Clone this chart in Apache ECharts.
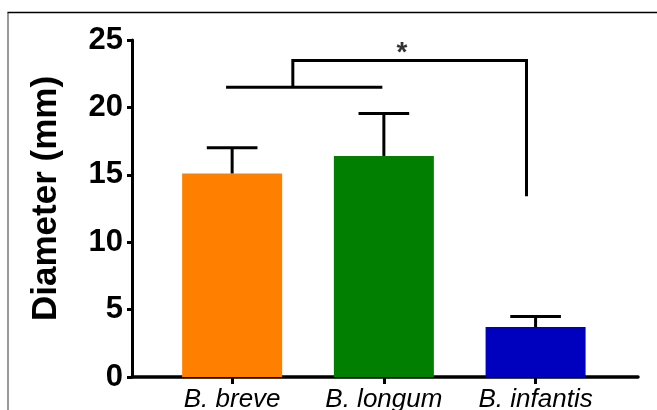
<!DOCTYPE html>
<html>
<head>
<meta charset="utf-8">
<script src="https://cdn.jsdelivr.net/npm/echarts@6/dist/echarts.min.js"></script>
<style>
html,body{margin:0;padding:0;background:#fff;}
#chart{width:657px;height:410px;}
</style>
</head>
<body>
<div id="chart"></div>
<script>
// ---- data ----
var categories = ['B. breve', 'B. longum', 'B. infantis'];
var categoryPositions = [0, 1, 2];
var means = [15.1, 16.4, 3.7];
var upperErrors = [17.0, 19.55, 4.48];
var barColors = ['#FF8000', '#007F00', '#0000BF'];
var yTicks = [0, 5, 10, 15, 20, 25];
// significance bracket (x in category units, y in mm)
var bracketLow = [[-0.04, 21.5], [0.99, 21.5]];
var bracketHigh = [[0.4, 21.5], [0.4, 23.47], [1.94, 23.47], [1.94, 13.4]];
var starMark = [[1.12, 24.45]];
var starText = '*';

var font = '"Liberation Sans", Arial, Helvetica, sans-serif';

var chart = echarts.init(document.getElementById('chart'), null, {renderer: 'canvas'});

var barData = categoryPositions.map(function (x, i) {
  return {value: [x, means[i]], itemStyle: {color: barColors[i]}};
});
var errData = categoryPositions.map(function (x, i) {
  return [x, means[i], upperErrors[i]];
});

var option = {
  animation: false,
  backgroundColor: '#fff',
  grid: {left: 132, right: 19, top: 40, bottom: 33, containLabel: false, outerBoundsMode: 'none'},
  graphic: [
    {type: 'line', shape: {x1: 8, y1: 12.5, x2: 8, y2: 420}, style: {stroke: '#777', lineWidth: 1.5}, silent: true},
    {type: 'line', shape: {x1: 7.5, y1: 12.5, x2: 670, y2: 12.5}, style: {stroke: '#000', lineWidth: 1.5}, silent: true}
  ],
  xAxis: {
    type: 'value',
    min: -0.66,
    max: 2.675,
    splitLine: {show: false},
    axisLine: {show: true, onZero: false, lineStyle: {color: '#000', width: 3.5}},
    axisTick: {show: true, customValues: categoryPositions, length: 7, lineStyle: {color: '#000', width: 3}},
    axisLabel: {
      show: true,
      customValues: categoryPositions,
      formatter: function (v) { return categories[Math.round(v)]; },
      fontFamily: font, fontSize: 26, fontStyle: 'italic', color: '#000', margin: 10
    }
  },
  yAxis: {
    type: 'value',
    min: 0,
    max: 25,
    interval: 5,
    name: 'Diameter (mm)',
    nameLocation: 'middle',
    nameGap: 68,
    nameTextStyle: {fontFamily: font, fontSize: 35, fontWeight: 'bold', color: '#000', padding: [0, 0, 0, 20]},
    splitLine: {show: false},
    axisLine: {show: true, onZero: false, lineStyle: {color: '#000', width: 3}},
    axisTick: {show: true, length: 5, lineStyle: {color: '#000', width: 3}},
    axisLabel: {
      fontFamily: font, fontSize: 31, fontWeight: 'bold', color: '#000', margin: 9,
      formatter: function (v) { return yTicks.indexOf(v) >= 0 ? String(v) : ''; }
    }
  },
  series: [
    {
      type: 'bar',
      data: barData,
      barWidth: 100,
      z: 2
    },
    {
      type: 'custom',
      z: 3,
      data: errData,
      renderItem: function (params, api) {
        var x = api.value(0);
        var base = api.coord([x, api.value(1)]);
        var top = api.coord([x, api.value(2)]);
        var half = api.size([0.167, 0])[0];
        return {
          type: 'group',
          children: [
            {type: 'line', shape: {x1: base[0], y1: base[1], x2: top[0], y2: top[1]}, style: {stroke: '#000', lineWidth: 3}},
            {type: 'line', shape: {x1: top[0] - half, y1: top[1], x2: top[0] + half, y2: top[1]}, style: {stroke: '#000', lineWidth: 3}}
          ]
        };
      }
    },
    {
      type: 'line',
      data: bracketLow,
      symbol: 'none',
      lineStyle: {color: '#000', width: 3},
      z: 4
    },
    {
      type: 'line',
      data: bracketHigh,
      symbol: 'none',
      lineStyle: {color: '#000', width: 3, join: 'miter', cap: 'butt'},
      z: 4
    },
    {
      type: 'scatter',
      data: starMark,
      symbolSize: 0,
      label: {
        show: true,
        position: 'inside',
        formatter: function () { return starText; },
        fontFamily: font, fontSize: 28, fontWeight: 'bold', color: '#000',
        offset: [0, 6]
      },
      z: 5
    }
  ]
};
chart.setOption(option);
</script>
</body>
</html>
